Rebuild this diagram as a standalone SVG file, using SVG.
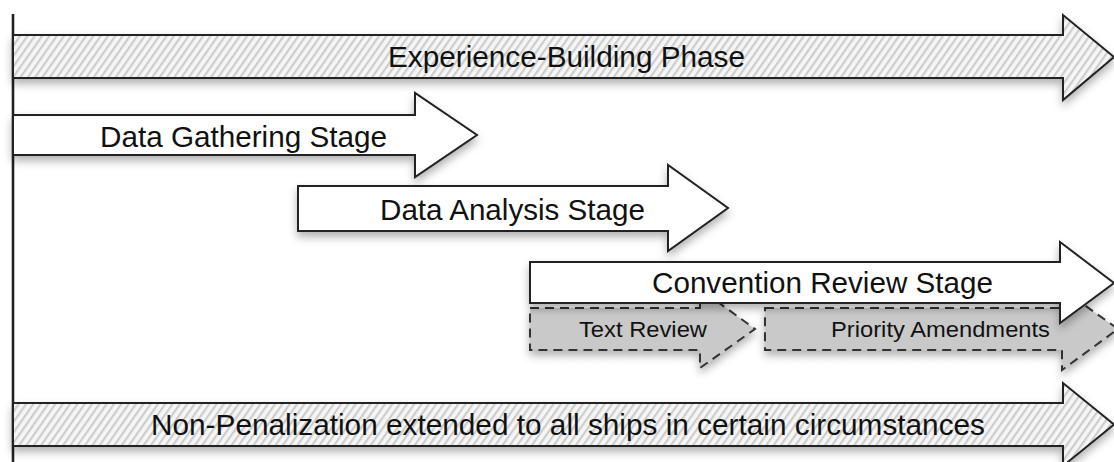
<svg xmlns="http://www.w3.org/2000/svg" width="1114" height="462" viewBox="0 0 1114 462">
<style>
.arrow{stroke:#222;stroke-width:2;stroke-linejoin:miter;filter:url(#sh)}
.hatch{fill:url(#hatch)}
.plain{fill:#fff}
.dash{fill:#c9c9c9;stroke:#333;stroke-width:2;stroke-dasharray:9,6;filter:url(#sh)}
.big{font-family:"Liberation Sans",Arial,sans-serif;font-size:29px;fill:#111}
.small{font-family:"Liberation Sans",Arial,sans-serif;font-size:22px;fill:#111}
</style>
<defs>
<pattern id="hatch" patternUnits="userSpaceOnUse" width="6" height="6" patternTransform="rotate(35)">
<rect width="6" height="6" fill="#f6f6f6"/>
<rect width="2.2" height="6" fill="#cdcdcd"/>
</pattern>
<filter id="sh" x="-5%" y="-30%" width="110%" height="170%">
<feDropShadow dx="0" dy="5" stdDeviation="4" flood-color="#000" flood-opacity="0.3"/>
</filter>
</defs>
<g id="axis"><line x1="13" y1="14" x2="13" y2="462" stroke="#222" stroke-width="2.6"/></g>
<g id="connectors"></g>
<g id="experience">
<path class="arrow hatch" d="M13,35 H1063 V15 L1114,57 L1063,100 V78 H13 Z"/>
<text class="big" x="388" y="67" textLength="357" lengthAdjust="spacingAndGlyphs">Experience-Building Phase</text>
</g>
<g id="gathering">
<path class="arrow plain" d="M13,115 H415 V93 L477,135 L415,177 V155 H13 Z"/>
<text class="big" x="100" y="147" textLength="287" lengthAdjust="spacingAndGlyphs">Data Gathering Stage</text>
</g>
<g id="analysis">
<path class="arrow plain" d="M298,186 H668 V165 L728,208 L668,251 V231 H298 Z"/>
<text class="big" x="380" y="220" textLength="265" lengthAdjust="spacingAndGlyphs">Data Analysis Stage</text>
</g>
<g id="textreview">
<path class="dash" d="M530,308 H700 V289 L755,329 L700,368 V350 H530 Z"/>
<text class="small" x="579" y="337" textLength="128" lengthAdjust="spacingAndGlyphs">Text Review</text>
</g>
<g id="priority">
<path class="dash" d="M765,308 H1062 V289 L1118,329 L1062,370 V350 H765 Z"/>
<text class="small" x="831" y="337" textLength="219" lengthAdjust="spacingAndGlyphs">Priority Amendments</text>
</g>
<g id="convention">
<path class="arrow plain" d="M530,262 H1060 V242 L1114,283 L1060,323 V303 H530 Z"/>
<text class="big" x="652" y="293" textLength="341" lengthAdjust="spacingAndGlyphs">Convention Review Stage</text>
</g>
<g id="nonpenalization">
<path class="arrow hatch" d="M13,403 H1063 V383 L1114,424.5 L1063,466 V446 H13 Z"/>
<text class="big" x="151" y="435" textLength="834" lengthAdjust="spacingAndGlyphs">Non-Penalization extended to all ships in certain circumstances</text>
</g>
</svg>
